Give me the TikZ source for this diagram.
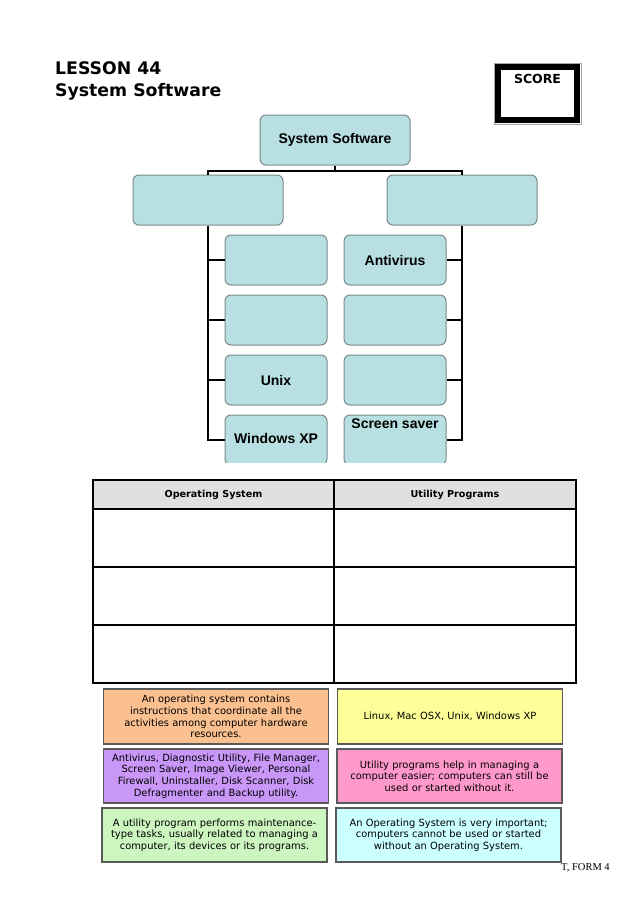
\documentclass[tikz,border=0pt]{standalone}
\usepackage{fontspec}
\setmainfont{DejaVu Sans}
\newfontfamily\arialb{Liberation Sans}
\newfontfamily\timesf{Liberation Serif}
\definecolor{treefill}{HTML}{B8DFE2}
\definecolor{treeline}{HTML}{7A8A8C}
\definecolor{hdrgray}{HTML}{E0E0E0}
\definecolor{corange}{HTML}{FAC08F}
\definecolor{cyellow}{HTML}{FFFF99}
\definecolor{cpurple}{HTML}{C997F7}
\definecolor{cpink}{HTML}{FF99CC}
\definecolor{cgreen}{HTML}{CCF5C0}
\definecolor{ccyan}{HTML}{CCFFFF}
\definecolor{cborder}{HTML}{5A5A5A}
\tikzset{
  treebox/.style={draw=treeline, line width=1pt, fill=treefill, rounded corners=6pt,
    minimum width=#1, inner sep=0pt, font=\arialb\bfseries\fontsize{14}{16}\selectfont},
  treebox/.default=102pt,
  treetext/.style={font=\arialb\bfseries\fontsize{14}{16}\selectfont, inner sep=0pt},
  conn/.style={draw=black, line width=2pt},
  infobox/.style={draw=cborder, line width=1.2pt, minimum width=225pt, minimum height=55pt,
    inner sep=0pt, align=center, text width=222pt, font=\fontsize{9.9}{11.6}\selectfont},
  tline/.style={draw=black, line width=1.4pt},
}
\begin{document}
\begin{tikzpicture}[x=1pt,y=-1pt]
\useasboundingbox (0,0) rectangle (638,903);
\fill[white] (0,0) rectangle (638,903);
% title
\node[anchor=base west, inner sep=0pt, font=\bfseries\fontsize{17.3}{20}\selectfont] (t1) at (55,74) {LESSON 44};
\node[anchor=base west, inner sep=0pt, font=\bfseries\fontsize{17.3}{20}\selectfont] (t2) at (55,96) {System Software};
% score box
\draw[draw=gray!70, line width=1pt] (494,63) rectangle (581,124);
\draw[line width=6pt] (498,67) rectangle (577,120);
\node[font=\bfseries\fontsize{12.5}{14}\selectfont, inner sep=0pt] (score) at (537.5,79) {SCORE};
% tree
\begin{scope}
\clip (100,100) rectangle (560,462);
\node[treebox=150pt, minimum height=50pt] (root) at (335,140) {System Software};
\node[treebox=150pt, minimum height=50pt] (os) at (208,200) {};
\node[treebox=150pt, minimum height=50pt] (ut) at (462,200) {};
\foreach \i/\y in {1/260,2/320,3/380,4/440} {
  \node[treebox, minimum height=50pt] (l\i) at (276,\y) {};
  \node[treebox, minimum height=50pt] (r\i) at (395,\y) {};
}
\node[treetext] (tunix) at (l3) {Unix};
\node[treetext] (twin) at (276,438) {Windows XP};
\node[treetext] (tanti) at (r1) {Antivirus};
\node[treetext, anchor=north] (tscr) at (395,419) {Screen saver};
\coordinate (hj) at (335,171);
\draw[conn] (root.south) -- (hj);
\draw[conn] (os.north) |- (hj) -| (ut.north);
\draw[conn] (os.south) |- (l4.west);
\draw[conn] (ut.south) |- (r4.east);
\foreach \i in {1,2,3} {
  \draw[conn] (l\i.west) -- (l\i.west -| os.south);
  \draw[conn] (r\i.east) -- (r\i.east -| ut.south);
}
\end{scope}
% table
\fill[hdrgray] (93,480) rectangle (576,509);
\draw[tline] (93,480) rectangle (576,683);
\draw[tline] (93,509) -- (576,509);
\draw[tline] (93,567) -- (576,567);
\draw[tline] (93,625) -- (576,625);
\draw[tline] (334,480) -- (334,683);
\node[font=\bfseries\fontsize{9.6}{11}\selectfont, inner sep=0pt] (h1) at (213.5,495) {Operating System};
\node[font=\bfseries\fontsize{9.6}{11}\selectfont, inner sep=0pt] (h2) at (455,495) {Utility Programs};
% info boxes
\node[infobox, fill=corange] (b1) at (216,716.5) {An operating system contains\\ instructions that coordinate all the\\ activities among computer hardware\\ resources.};
\node[infobox, fill=cyellow] (b2) at (450,716.5) {Linux, Mac OSX, Unix, Windows XP};
\node[infobox, fill=cpurple, minimum height=54pt] (b3) at (216,776) {Antivirus, Diagnostic Utility, File Manager,\\ Screen Saver, Image Viewer, Personal\\ Firewall, Uninstaller, Disk Scanner, Disk\\ Defragmenter and Backup utility.};
\node[infobox, fill=cpink, minimum height=54pt] (b4) at (449.5,776) {Utility programs help in managing a\\ computer easier; computers can still be\\ used or started without it.};
\node[infobox, fill=cgreen, minimum height=54pt] (b5) at (214.5,835) {A utility program performs maintenance-\\ type tasks, usually related to managing a\\ computer, its devices or its programs.};
\node[infobox, fill=ccyan, minimum height=54pt] (b6) at (448.5,835) {An Operating System is very important;\\ computers cannot be used or started\\ without an Operating System.};
% footer
\node[anchor=base west, inner sep=0pt, font=\timesf\fontsize{10.5}{12}\selectfont] (foot) at (561,870) {T, FORM 4};
\end{tikzpicture}
\end{document}
